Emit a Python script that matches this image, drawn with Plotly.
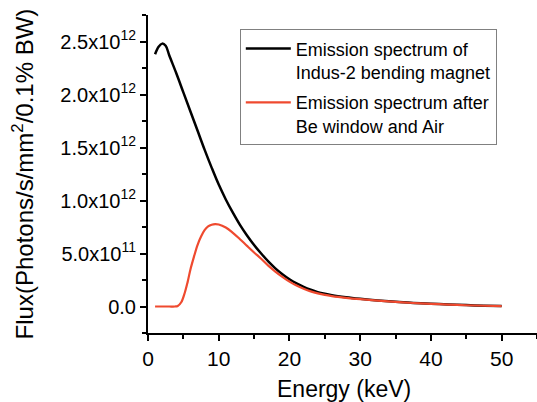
import plotly.graph_objects as go

# Photon energy (keV) and flux (photons/s/mm^2/0.1% BW) for the bending-magnet source
energy_bm = [1.0, 1.5, 2.0, 2.5, 3.0, 4.0, 5.0, 6.0, 7.0, 8.0, 9.0, 10.0, 11.0, 12.0,
             13.0, 14.0, 15.0, 16.0, 17.0, 18.0, 19.0, 20.0, 21.0, 22.0, 23.0, 24.0, 25.0,
             26.0, 28.0, 30.0, 32.5, 35.0, 37.5, 40.0, 42.5, 45.0, 47.5, 50.0]
flux_bm = [2.38e12, 2.45e12, 2.48e12, 2.46e12, 2.37e12, 2.20e12, 2.02e12, 1.84e12,
           1.66e12, 1.48e12, 1.31e12, 1.15e12, 1.01e12, 0.885e12, 0.77e12, 0.67e12,
           0.58e12, 0.50e12, 0.425e12, 0.36e12, 0.305e12, 0.257e12, 0.218e12, 0.185e12,
           0.158e12, 0.136e12, 0.12e12, 0.107e12, 0.088e12, 0.073e12, 0.057e12, 0.044e12,
           0.034e12, 0.026e12, 0.019e12, 0.013e12, 0.008e12, 0.004e12]

# Spectrum transmitted through the Be window and air path
energy_be = [1.0, 2.0, 3.0, 3.8, 4.2, 4.7, 5.2, 5.6, 6.0, 6.5, 7.0, 7.5, 8.0, 8.5, 9.0,
             9.5, 10.0, 11.0, 12.0, 13.0, 14.0, 15.0, 16.0, 17.0, 18.0, 19.0, 20.0,
             21.0, 22.0, 23.0, 24.0, 25.0, 26.0, 28.0, 30.0, 32.5, 35.0, 37.5, 40.0,
             42.5, 45.0, 47.5, 50.0]
flux_be = [0.0, 0.0, 0.0, 0.0, 0.005e12, 0.04e12, 0.13e12, 0.23e12, 0.35e12, 0.47e12,
           0.58e12, 0.66e12, 0.72e12, 0.755e12, 0.772e12, 0.778e12, 0.774e12, 0.745e12,
           0.695e12, 0.635e12, 0.572e12, 0.51e12, 0.45e12, 0.385e12, 0.33e12, 0.28e12,
           0.235e12, 0.198e12, 0.168e12, 0.143e12, 0.124e12, 0.109e12, 0.098e12,
           0.082e12, 0.069e12, 0.055e12, 0.043e12, 0.033e12, 0.025e12, 0.018e12,
           0.012e12, 0.007e12, 0.003e12]

x_ticks = [0, 10, 20, 30, 40, 50]
y_ticks = [0, 5e11, 1e12, 1.5e12, 2e12, 2.5e12]
y_tick_text = ["0.0", "5.0x10<sup>11</sup>", "1.0x10<sup>12</sup>", "1.5x10<sup>12</sup>",
               "2.0x10<sup>12</sup>", "2.5x10<sup>12</sup>"]

FONT = "Liberation Sans, Arial, sans-serif"

fig = go.Figure()
fig.add_trace(go.Scatter(
    x=energy_bm, y=flux_bm, mode="lines", line=dict(color="black", width=2.5, shape="spline"),
    name="Emission spectrum of<br>Indus-2 bending magnet", legendgroup="bm"))
fig.add_trace(go.Scatter(
    x=energy_be, y=flux_be, mode="lines", line=dict(color="#EF4A2F", width=2.2, shape="spline"),
    name="Emission spectrum after<br>Be window and Air", legendgroup="be"))

axis_common = dict(showline=True, linecolor="black", linewidth=2, ticks="outside",
                   tickcolor="black", tickwidth=2, ticklen=6, showgrid=False, zeroline=False,
                   mirror=False, automargin=False)

fig.update_xaxes(range=[0, 55], tickvals=x_ticks, tickfont=dict(family=FONT, size=21, color="black"),
                 minor=dict(ticks="outside", ticklen=4, tickwidth=2, tickcolor="black", dtick=5, tick0=0,
                            showgrid=False),
                 **axis_common)
fig.update_yaxes(range=[-2.5e11, 2.75e12], tickvals=y_ticks, ticktext=y_tick_text,
                 tickfont=dict(family=FONT, size=20, color="black"),
                 title=dict(text="Flux(Photons/s/mm<sup>2</sup>/0.1% BW)",
                            font=dict(family=FONT, size=24, color="black"), standoff=20),
                 minor=dict(ticks="outside", ticklen=4, tickwidth=2, tickcolor="black", dtick=2.5e11,
                            tick0=0, showgrid=False),
                 **axis_common)

fig.update_layout(
    width=537, height=402,
    margin=dict(l=148, r=0, t=15, b=69),
    paper_bgcolor="white", plot_bgcolor="white",
    showlegend=True,
    legend=dict(x=0.236, y=0.955, xanchor="left", yanchor="top",
                bgcolor="white", bordercolor="#808080", borderwidth=1,
                font=dict(family=FONT, size=18, color="black"),
                valign="top", itemwidth=45, tracegroupgap=4),
    annotations=[
        # x-axis title, set lower than the margin-constrained axis title allows
        dict(text="Energy (keV)", xref="paper", yref="paper", x=0.505, y=-0.176,
             xanchor="center", yanchor="middle", showarrow=False,
             font=dict(family=FONT, size=23, color="black")),
        # panel label
        dict(text="a", xref="paper", yref="paper", x=-0.334, y=-0.202,
             xanchor="center", yanchor="top", showarrow=False,
             font=dict(family=FONT, size=20, color="black")),
    ],
)

fig.write_html("out.html")
